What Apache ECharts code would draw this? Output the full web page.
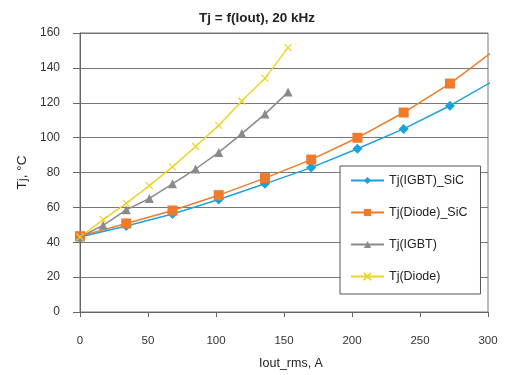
<!DOCTYPE html>
<html>
<head>
<meta charset="utf-8">
<script src="https://cdn.jsdelivr.net/npm/echarts@6/dist/echarts.min.js"></script>
<style>
  html, body { margin: 0; padding: 0; background: #fff; }
  #chart { width: 514px; height: 375px; }
</style>
</head>
<body>
<div id="chart"></div>
<script>
// SiC curves sampled every 34 A, Si curves every 17 A
var iSic = [0, 34, 68, 102, 136, 170, 204, 238, 272, 306]
var tjIgbtSic = [43, 49.3, 56.2, 64.5, 73.5, 82.8, 93.6, 105, 118.3, 133.5]
var tjDiodeSic = [43.5, 50.8, 58.2, 67, 76.8, 87.4, 99.9, 114.4, 131, 150.8]

var iSi = [0, 17, 34, 51, 68, 85, 102, 119, 136, 153]
var tjIgbt = [43, 49.7, 58.6, 65.1, 73.5, 82, 91.5, 102.3, 113.5, 126.1]
var tjDiode = [43, 53, 62.3, 72.5, 83.2, 94.9, 107, 121, 134, 151.6]

var xTicks = [0, 50, 100, 150, 200, 250, 300]
var yTicks = [0, 20, 40, 60, 80, 100, 120, 140, 160]

function pairs(xs, ys) {
    return xs.map(function (x, i) { return [x, ys[i]] })
}

var font = 'Liberation Sans, Arial, sans-serif'
var crossPath = 'path://M0,0L10,10M10,0L0,10'

var chart = echarts.init(document.getElementById('chart'))
var option = {
    animation: false,
    title: {
        text: 'Tj = f(Iout), 20 kHz',
        left: 'center',
        top: 6,
        textStyle: { fontFamily: font, fontSize: 13.5, fontWeight: 'bold', color: '#222' }
    },
    grid: { left: 80, right: 26, top: 33, bottom: 55, show: true, borderColor: '#777', borderWidth: 1 },
    legend: {
        orient: 'vertical',
        left: 340,
        top: 166,
        padding: [8, 13, 11, 10],
        itemGap: 19,
        itemWidth: 33,
        itemHeight: 9,
        backgroundColor: '#fff',
        borderColor: '#555',
        borderWidth: 1,
        textStyle: { fontFamily: font, fontSize: 12.5, color: '#222' },
        data: ['Tj(IGBT)_SiC', 'Tj(Diode)_SiC', 'Tj(IGBT)', 'Tj(Diode)']
    },
    xAxis: {
        type: 'value',
        min: xTicks[0],
        max: xTicks[xTicks.length - 1],
        interval: 50,
        name: 'Iout_rms, A',
        nameLocation: 'middle',
        nameGap: 45,
        nameTextStyle: { fontFamily: font, fontSize: 12.5, color: '#222', padding: [0, 0, 0, 14] },
        axisLine: { lineStyle: { color: '#666' } },
        axisTick: { show: true, length: 5, lineStyle: { color: '#666' } },
        axisLabel: { margin: 23, fontFamily: font, fontSize: 11.5, color: '#333' },
        splitLine: { show: false }
    },
    yAxis: {
        type: 'value',
        min: yTicks[0],
        max: yTicks[yTicks.length - 1],
        interval: 20,
        name: 'Tj, °C',
        nameLocation: 'middle',
        nameGap: 51,
        nameTextStyle: { fontFamily: font, fontSize: 13.5, color: '#222' },
        axisLine: { show: true, lineStyle: { color: '#666' } },
        axisTick: { show: true, length: 7, lineStyle: { color: '#666' } },
        axisLabel: { margin: 20, fontFamily: font, fontSize: 12, color: '#333' },
        splitLine: { show: true, lineStyle: { color: '#777', width: 1 } }
    },
    series: [
        {
            name: 'Tj(IGBT)_SiC',
            type: 'line',
            data: pairs(iSic, tjIgbtSic),
            clip: true,
            symbol: 'diamond',
            symbolSize: 10,
            lineStyle: { color: '#1ba1dc', width: 1.5 },
            itemStyle: { color: '#1ba1dc' }
        },
        {
            name: 'Tj(Diode)_SiC',
            type: 'line',
            data: pairs(iSic, tjDiodeSic),
            clip: true,
            symbol: 'rect',
            symbolSize: 10,
            lineStyle: { color: '#ef7b2a', width: 1.5 },
            itemStyle: { color: '#ef7b2a' }
        },
        {
            name: 'Tj(IGBT)',
            type: 'line',
            data: pairs(iSi, tjIgbt),
            symbol: 'triangle',
            symbolSize: 9,
            lineStyle: { color: '#8a8a8a', width: 1.5 },
            itemStyle: { color: '#8a8a8a' }
        },
        {
            name: 'Tj(Diode)',
            type: 'line',
            data: pairs(iSi, tjDiode),
            symbol: crossPath,
            symbolSize: 7,
            lineStyle: { color: '#eed32a', width: 1.5 },
            itemStyle: { color: 'transparent', borderColor: '#eed32a', borderWidth: 1.2 }
        }
    ]
}
chart.setOption(option)
</script>
</body>
</html>
